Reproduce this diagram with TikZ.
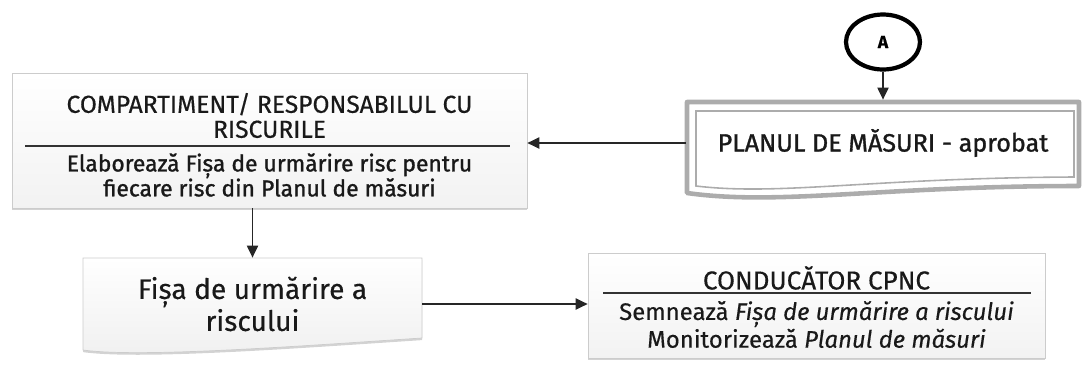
\documentclass[tikz,border=0pt]{standalone}
\usepackage{fontspec}
\setmainfont{Fira Sans}[FakeBold=0.4]
\newfontfamily\heavyfont{Fira Sans}[FakeBold=1.2]
\usetikzlibrary{shapes.geometric, arrows.meta, positioning, shadows}

\begin{document}
\begin{tikzpicture}[x=0.02cm, y=-0.02cm,
    panel/.style={rectangle, draw=gray!40, top color=white, bottom color=gray!10,
                  drop shadow={shadow xshift=0pt, shadow yshift=-1.2pt, opacity=0.35}},
    docframe/.style={draw=gray!40, top color=white, bottom color=gray!12,
                     drop shadow={shadow xshift=0pt, shadow yshift=-1.2pt, opacity=0.35}},
    planouter/.style={draw=gray!65, line width=2.6pt, line join=round},
    planinner/.style={draw=gray!65, line width=0.9pt},
    holder/.style={rectangle, inner sep=0pt, text=black!90},
    headtext/.style={align=center, text=black!90, font=\fontsize{14}{14.2}\selectfont},
    bodytext/.style={align=center, text=black!90, font=\heavyfont\fontsize{13}{14.2}\selectfont},
    sepline/.style={draw=black!80, line width=0.8pt},
    connA/.style={ellipse, draw=black, line width=2.4pt, minimum width=1.48cm,
                  minimum height=1.1cm, inner sep=0pt, font=\bfseries\fontsize{10}{10}\selectfont},
    arrow/.style={-{Triangle[length=2.4mm, width=2.2mm]}, line width=1.1pt, black!85}
]
\useasboundingbox (0,0) rectangle (1083,366);

% outlines with wavy bottom
\path[docframe] (83,258) -- (422,258) -- (422,338)
      .. controls (300,346) and (140,358) .. (83,350) -- cycle;
\draw[planouter] (687,102) -- (1079,102) -- (1079,186)
      .. controls (880,186) and (780,206) .. (687,193) -- cycle;
\draw[planinner] (696,111) -- (1074,111) -- (1074,177)
      .. controls (870,178) and (780,196) .. (696,186) -- cycle;

\node (resp) [panel, minimum width=10.3cm, minimum height=2.7cm] at (269.5,140.5) {};
\node (respHead) [headtext] at (269.5,115.5) {COMPARTIMENT/ RESPONSABILUL CU\\RISCURILE};
\node (respText) [bodytext] at (269.5,175) {Elaborează Fișa de urmărire risc pentru\\fiecare risc din Planul de măsuri};

\node (conA) [connA] at (883,42) {A};
\node (plan) [holder, minimum width=7.88cm, minimum height=1.72cm,
              font=\heavyfont\fontsize{14.3}{16}\selectfont] at (883,143) {PLANUL DE MĂSURI - aprobat};

\node (fisa) [holder, minimum width=6.78cm, minimum height=1.84cm, align=center,
              font=\fontsize{16}{16}\selectfont] at (252.5,304) {Fișa de urmărire a\\riscului};

\node (cond) [panel, minimum width=9.14cm, minimum height=2.1cm] at (816.5,305.5) {};
\node (condHead) [headtext, font=\fontsize{14.8}{15}\selectfont] at (816.5,278) {CONDUCĂTOR CPNC};
\node (condText) [bodytext, font=\fontsize{13.6}{14.2}\selectfont] at (816.5,324.5)
      {Semnează \textit{Fișa de urmărire a riscului}\\Monitorizează \textit{Planul de măsuri}};

\draw[sepline] (25,146) -- (510,146);
\draw[sepline] (603,293) -- (1031,293);

\draw[arrow] (conA) -- (plan);
\draw[arrow] (plan.west) -- (resp.east |- plan.west);
\draw[arrow] (resp.south -| fisa.north) -- (fisa.north);
\draw[arrow] (fisa.east) -- (fisa.east -| cond.west);
\end{tikzpicture}
\end{document}
